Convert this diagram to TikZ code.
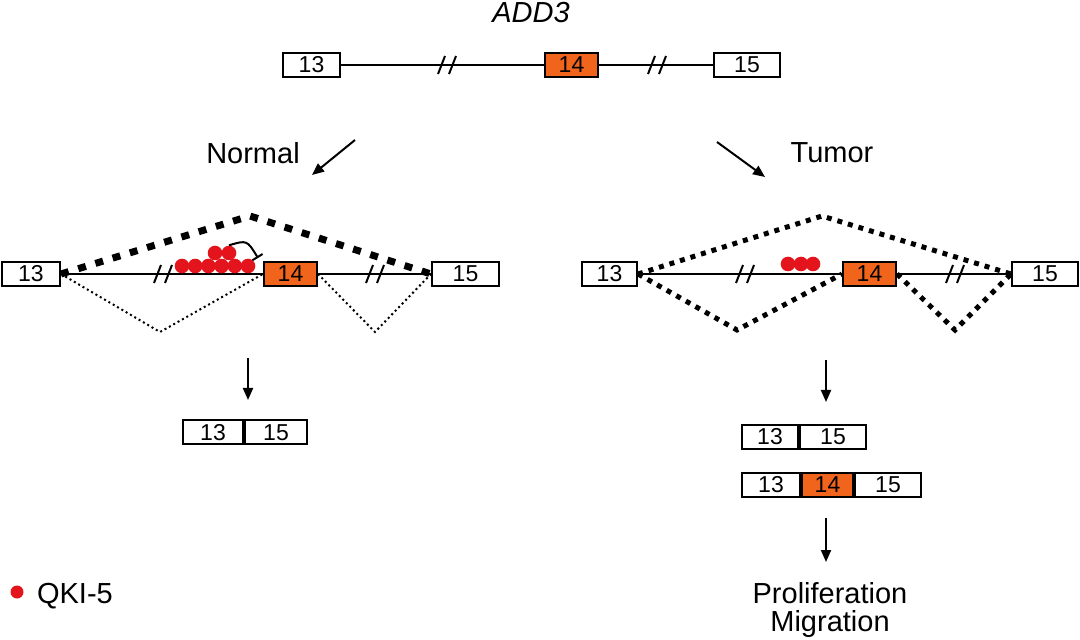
\documentclass[tikz,border=0pt]{standalone}
\usepackage{fontspec}
\setmainfont{Liberation Sans}
\usetikzlibrary{arrows.meta}
\definecolor{exonorange}{RGB}{240,100,28}
\definecolor{qkired}{RGB}{228,20,28}

\begin{document}
\begin{tikzpicture}[x=0.5pt,y=-0.5pt,
    exon/.style={rectangle, draw, line width=1pt, inner sep=0pt, minimum height=12pt, font=\fontsize{11.5}{12}\selectfont},
    altexon/.style={exon, fill=exonorange},
    caption/.style={font=\fontsize{14.5}{14}\selectfont},
    qki/.style={circle, fill=qkired, inner sep=0pt, minimum size=7.3pt},
    intron/.style={line width=1pt},
    skipjn/.style={line width=3.5pt, dash pattern=on 4pt off 5pt},
    incljn/.style={line width=1pt, dash pattern=on 1pt off 1.5pt},
    tumorjn/.style={line width=2.5pt, dash pattern=on 2.5pt off 3pt},
    flow/.style={-{Triangle[length=6pt,width=5pt]}, line width=1pt}]
            \useasboundingbox (0,0) rectangle (1080,640);

            % gene
            \node[caption, font=\fontsize{14.5}{14}\selectfont\itshape] at (531,13) (gene) {ADD3};
            \node[exon, minimum width=28.5pt] at (311.5,65) (t13) {13};
            \node[altexon, minimum width=26.5pt] at (571.5,65) (t14) {14};
            \node[exon, minimum width=33pt] at (747,65) (t15) {15};
            \draw[intron] (t13) -- (t14);
            \draw[intron] (t14) -- (t15);

            \node[caption] at (253,153) (normal) {Normal};
            \node[caption] at (832,153) (tumor) {Tumor};
            \coordinate (n1) at (355,140);
            \coordinate (n2) at (312,175);
            \coordinate (m1) at (717,142);
            \coordinate (m2) at (765,177);
            \draw[flow] (n1) -- (n2);
            \draw[flow] (m1) -- (m2);

            % normal splicing
            \node[exon, minimum width=29pt] at (31,274) (l13) {13};
            \node[altexon, minimum width=26.5pt] at (290.5,274) (l14) {14};
            \node[exon, minimum width=33.5pt] at (465.5,274) (l15) {15};
            \draw[intron] (l13) -- (l14);
            \draw[intron] (l14) -- (l15);
            \coordinate (lskip) at (250,216);
            \coordinate (lin1) at (160,332);
            \coordinate (lin2) at (375,332);
            \draw[skipjn] (l13.east) -- (lskip) -- (l15.west);
            \draw[incljn] (l13.east) -- (lin1) -- (l14.west);
            \draw[incljn] (l14.east) -- (lin2) -- (l15.west);
            \foreach \i in {0,...,5}
                \node[qki] at (182+13.2*\i,266) {};
            \node[qki] at (215,253) (qa) {};
            \node[qki] at (229,253) (qb) {};
            \draw[line width=1pt, -{Bar[width=6pt]}] (qb.north) .. controls (247,240) .. (258,258);

            % tumor splicing
            \node[exon, minimum width=27.5pt] at (609.5,274) (r13) {13};
            \node[altexon, minimum width=26.5pt] at (869.5,274) (r14) {14};
            \node[exon, minimum width=33pt] at (1045,274) (r15) {15};
            \draw[intron] (r13) -- (r14);
            \draw[intron] (r14) -- (r15);
            \coordinate (rskip) at (822,216);
            \coordinate (rin1) at (737,330);
            \coordinate (rin2) at (955,330);
            \draw[tumorjn] (r13.east) -- (rskip) -- (r15.west);
            \draw[tumorjn] (r13.east) -- (rin1) -- (r14.west);
            \draw[tumorjn] (r14.east) -- (rin2) -- (r15.west);
            \foreach \x in {788,801,813}
                \node[qki] at (\x,264) {};

            % intron breaks
            \foreach \x/\y in {447/65, 657/65, 163/274, 375/274, 745/274, 955/274}
                \draw[line width=1pt] (\x-9,\y+9) -- (\x-2,\y-9) (\x+2,\y+9) -- (\x+9,\y-9);

            % products
            \coordinate (la1) at (248,358);
            \coordinate (la2) at (248,400);
            \draw[flow] (la1) -- (la2);
            \node[exon, minimum width=30pt] at (213,432.5) (a13) {13};
            \node[exon, minimum width=31pt, anchor=west] at (a13.east) (a15) {15};

            \coordinate (ra1) at (826,360);
            \coordinate (ra2) at (826,402);
            \draw[flow] (ra1) -- (ra2);
            \node[exon, minimum width=28pt] at (770,437) (b13) {13};
            \node[exon, minimum width=33pt, anchor=west] at (b13.east) (b15) {15};
            \node[exon, minimum width=29pt] at (771,484.5) (c13) {13};
            \node[altexon, minimum width=25.5pt, anchor=west] at (c13.east) (c14) {14};
            \node[exon, minimum width=33pt, anchor=west] at (c14.east) (c15) {15};

            \coordinate (rb1) at (826,518);
            \coordinate (rb2) at (826,562);
            \draw[flow] (rb1) -- (rb2);
            \node[caption, align=center] at (830,610) (out) {Proliferation\\Migration};

            % legend
            \node[qki, minimum size=6.5pt] at (17,592) (key) {};
            \node[caption, anchor=west] at (30,596) (keytext) {QKI-5};
\end{tikzpicture}
\end{document}
